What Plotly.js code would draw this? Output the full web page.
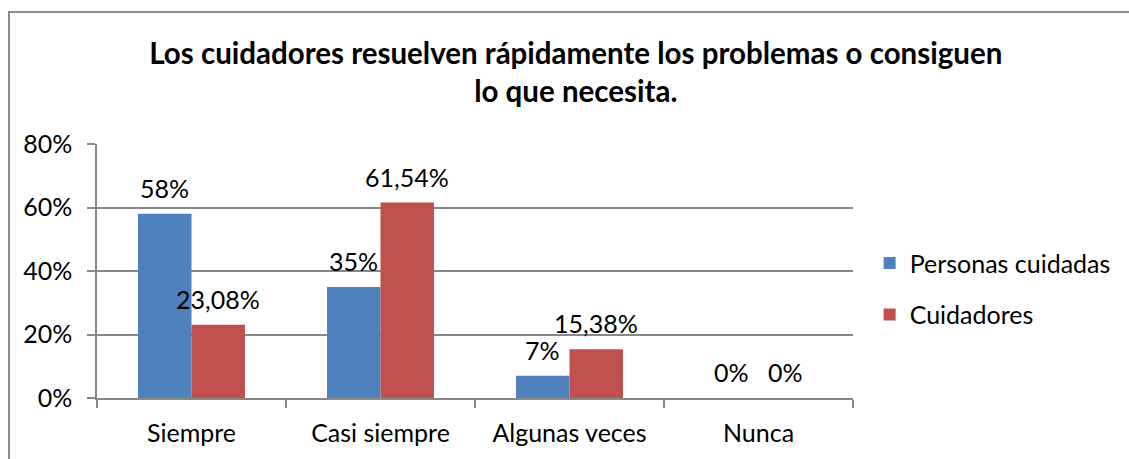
<!DOCTYPE html>
<html>
<head>
<meta charset="utf-8">
<script src="https://cdn.plot.ly/plotly-3.0.1.min.js"></script>
<style>
  body { margin: 0; overflow: hidden; background: #fff; }
  #chart { position: absolute; left: 0; top: 0; width: 1129px; height: 459px; }
  #frame { position: absolute; left: 8px; top: 11px; width: 1200px; height: 500px;
           border-left: 2px solid #8c8c8c; border-top: 2px solid #8c8c8c; pointer-events: none; }
</style>
</head>
<body>
<div id="chart"></div>
<div id="frame"></div>
<script>
var categorias = ["Siempre", "Casi siempre", "Algunas veces", "Nunca"];
var personas = [0.58, 0.35, 0.07, 0];
var cuidadores = [0.2308, 0.6154, 0.1538, 0];
var etiquetasPersonas = ["58%", "35%", "7%", "0%"];
var etiquetasCuidadores = ["23,08%", "61,54%", "15,38%", "0%"];

var fuente = "Lato, 'Open Sans', sans-serif";
var tam = 25;

var trace1 = {
  x: categorias,
  y: personas,
  name: "Personas cuidadas",
  type: "bar",
  legendgroup: "a",
  marker: { color: "#4F81BD" }
};
var trace2 = {
  x: categorias,
  y: cuidadores,
  name: "Cuidadores",
  type: "bar",
  legendgroup: "b",
  marker: { color: "#C0504D" }
};

// etiquetas de datos encima de cada barra
var annotations = [];
for (var i = 0; i < categorias.length; i++) {
  annotations.push({
    x: categorias[i], y: personas[i], xref: "x", yref: "y",
    text: etiquetasPersonas[i], showarrow: false,
    xshift: -26.75, yshift: 26, yanchor: "middle",
    font: { family: fuente, size: tam, color: "#000" }
  });
  annotations.push({
    x: categorias[i], y: cuidadores[i], xref: "x", yref: "y",
    text: etiquetasCuidadores[i], showarrow: false,
    xshift: 26.75, yshift: 26, yanchor: "middle",
    font: { family: fuente, size: tam, color: "#000" }
  });
}

var layout = {
  width: 1129,
  height: 459,
  margin: { l: 97, r: 276, t: 144, b: 61 },
  paper_bgcolor: "#fff",
  plot_bgcolor: "#fff",
  font: { family: fuente, size: tam, color: "#000" },
  title: {
    text: "<b>Los cuidadores resuelven rápidamente los problemas o consiguen<br>lo que necesita.</b>",
    font: { family: fuente, size: 29.5, color: "#000" },
    xref: "container", x: 0.51, xanchor: "center",
    yref: "container", y: 1 - 64 / 459, yanchor: "top"
  },
  barmode: "group",
  bargap: 0.434,
  bargroupgap: 0,
  showlegend: true,
  legend: {
    x: 1.022, xanchor: "left", y: 0.43, yanchor: "middle",
    font: { family: fuente, size: tam, color: "#000" },
    tracegroupgap: 16,
    itemwidth: 30
  },
  xaxis: {
    type: "category",
    showline: true, linecolor: "#888", linewidth: 1.5,
    ticks: "outside", ticklen: 8, tickcolor: "#888", tickwidth: 1.5,
    tickson: "boundaries",
    showgrid: false,
    ticklabelstandoff: 12,
    tickfont: { family: fuente, size: tam, color: "#000" }
  },
  yaxis: {
    range: [0, 0.8],
    dtick: 0.2,
    tickformat: ".0%",
    showline: true, linecolor: "#888", linewidth: 1.5,
    ticks: "outside", ticklen: 8, tickcolor: "#888", tickwidth: 1.5,
    showgrid: true, gridcolor: "#888", gridwidth: 1.5,
    zeroline: false,
    ticklabelstandoff: 10,
    tickfont: { family: fuente, size: tam, color: "#000" }
  },
  annotations: annotations
};

Plotly.newPlot("chart", [trace1, trace2], layout, { displayModeBar: false });
</script>
</body>
</html>
